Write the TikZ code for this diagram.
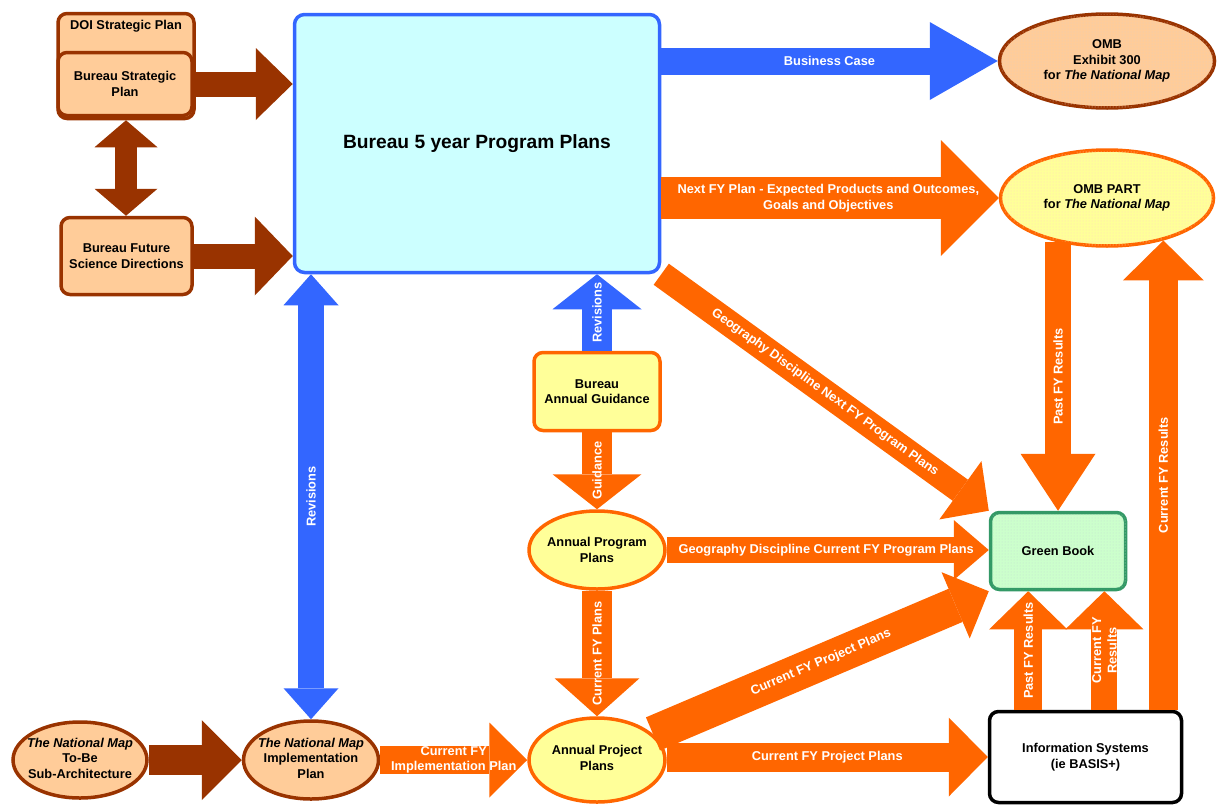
\documentclass[tikz,border=0pt]{standalone}
\usepackage{fontspec}
\setmainfont{Liberation Sans}
\usetikzlibrary{arrows.meta,shapes.geometric,calc,patterns}

\definecolor{brn}{HTML}{993300}
\definecolor{org}{HTML}{FF6600}
\definecolor{blu}{HTML}{3366FF}
\definecolor{peach}{HTML}{FFCC99}
\definecolor{ylw}{HTML}{FFFF99}
\definecolor{cyanf}{HTML}{CCFFFF}
\definecolor{grnf}{HTML}{CCFFCC}
\definecolor{grns}{HTML}{339966}

\tikzset{
  lbl/.style={font=\bfseries\fontsize{12.8}{15.5}\selectfont, align=center, inner sep=0pt},
  wlbl/.style={lbl, text=white},
  rbox/.style={lbl, draw, rounded corners=9pt, line width=3.5pt},
  ell/.style={draw, ellipse, line width=3.5pt, inner sep=0pt},
  dotted fill/.style={postaction={pattern=dots, pattern color=#1}},
  blk/.style n args={4}{draw=#1, line width=#2,
    -{Triangle[length=#4, width=#3, line width=0pt]}},
  dblk/.style n args={4}{draw=#1, line width=#2,
    {Triangle[length=#4, width=#3, line width=0pt]}-{Triangle[length=#4, width=#3, line width=0pt]}},
}

\begin{document}
\begin{tikzpicture}[x=1pt, y=-1pt]
\useasboundingbox (0,0) rectangle (1217,806);

% ---- planning boxes on the left
\node[rbox, fill=peach, draw=brn, minimum width=136pt, minimum height=105pt] (doi) at (126,66) {};
\node[lbl] (doit) at (126,26) {DOI Strategic Plan};
\node[rbox, fill=peach, draw=brn, minimum width=134pt, minimum height=63pt] (bsp) at (125,84) {Bureau Strategic\\Plan};
\node[rbox, fill=peach, draw=brn, minimum width=131pt, minimum height=77pt] (bfs) at (126.5,256) {Bureau Future\\Science Directions};

% ---- program plans
\node[rbox, fill=cyanf, draw=blu, rounded corners=10pt, minimum width=365pt, minimum height=258pt] (big) at (477,143.5)
  {\fontsize{19.2}{23}\selectfont Bureau 5 year Program Plans};

% ---- OMB
\node[ell, fill=peach, draw=brn, dotted fill=brn!25, minimum width=215pt, minimum height=94pt] (omb300) at (1107,61) {};
\node[lbl] (omb300t) at (1107,61) {OMB\\Exhibit 300\\for \textit{The National Map}};
\node[ell, fill=ylw, draw=org, dotted fill=org!25, minimum width=213pt, minimum height=96pt] (ombpart) at (1107,198) {};
\node[lbl] (ombpartt) at (1107,198) {OMB PART\\for \textit{The National Map}};

% ---- annual cycle
\node[rbox, fill=ylw, draw=org, minimum width=126pt, minimum height=78pt] (bag) at (597,391.5) {Bureau\\Annual Guidance};
\node[ell, fill=ylw, draw=org, minimum width=136pt, minimum height=78pt] (app) at (597,550) {};
\node[lbl] (appt) at (597,550) {Annual Program\\Plans};
\node[ell, fill=ylw, draw=org, minimum width=136pt, minimum height=84pt] (apj) at (597,760) {};
\node[lbl] (apjt) at (597,758) {Annual Project\\Plans};

% ---- results
\node[rbox, fill=grnf, draw=grns, dotted fill=grns!30, minimum width=135pt, minimum height=77pt] (green) at (1058,551) {Green Book};
\node[rbox, fill=white, draw=black, minimum width=192pt, minimum height=91pt] (info) at (1085.5,757) {Information Systems\\(ie BASIS+)};

% ---- architecture
\node[ell, fill=peach, draw=brn, minimum width=134pt, minimum height=76pt] (tnm1) at (80,760) {};
\node[lbl] (tnm1t) at (80,758) {\textit{The National Map}\\To-Be\\Sub-Architecture};
\node[ell, fill=peach, draw=brn, minimum width=135pt, minimum height=78pt] (tnm2) at (311,760) {};
\node[lbl] (tnm2t) at (311,758) {\textit{The National Map}\\Implementation\\Plan};

% ---- connectors
\draw[blk={brn}{25pt}{72pt}{37pt}] (bsp.east) -- (bsp.east -| big.west);
\draw[blk={brn}{25pt}{79pt}{38pt}] (bfs.east) -- (bfs.east -| big.west);
\draw[dblk={brn}{22pt}{63pt}{27pt}] (doi.south) -- (doi.south |- bfs.north);

\draw[blk={blu}{27pt}{78pt}{68pt}] (big.east |- omb300.west) -- (omb300.west)
  node[wlbl, pos=0.5] (bcase) {Business Case};
\draw[blk={org}{42pt}{116pt}{58pt}] (big.east |- ombpart.west) -- (ombpart.west)
  node[wlbl, pos=0.495] (nextfy) {Next FY Plan - Expected Products and Outcomes,\\Goals and Objectives};
\draw[blk={org}{26pt}{72pt}{35pt}] (big.south east) -- (green.north west)
  node[wlbl, sloped, pos=0.5] (gdnext) {Geography Discipline Next FY Program Plans};

\draw[blk={blu}{30pt}{89pt}{35pt}] (bag.north) -- (bag.north |- big.south)
  node[wlbl, rotate=90, pos=0.5] (rev1) {Revisions};
\draw[blk={org}{30pt}{89pt}{35pt}] (bag.south) -- (bag.south |- app.north)
  node[wlbl, rotate=90, pos=0.5] (guid) {Guidance};
\draw[blk={org}{26pt}{60pt}{35pt}] (app.east) -- (app.east -| green.west)
  node[wlbl, pos=0.495] (gdcur) {Geography Discipline Current FY Program Plans};
\draw[blk={org}{30pt}{85pt}{38pt}] (app.south) -- (app.south |- apj.north)
  node[wlbl, rotate=90, pos=0.5] (cfyp) {Current FY Plans};
\draw[blk={org}{36pt}{72pt}{36pt}] (apj.25) -- (green.south west)
  node[wlbl, sloped, pos=0.5] (cfpp1) {Current FY Project Plans};
\draw[blk={org}{29pt}{79pt}{39pt}] (apj.east |- info.west) -- (info.west)
  node[wlbl, pos=0.5] (cfpp2) {Current FY Project Plans};

\draw[blk={brn}{30pt}{80pt}{40pt}] (tnm1.east) -- (tnm2.west);
\draw[blk={org}{28pt}{75pt}{38pt}] (tnm2.east) -- (apj.west)
  node[wlbl, pos=0.5] (cfimp) {Current FY\\Implementation Plan};
\draw[dblk={blu}{26pt}{55pt}{31pt}] (big.south -| tnm2.north) -- (tnm2.north)
  node[wlbl, rotate=90, pos=0.5] (rev2) {Revisions};

\draw[blk={org}{26pt}{75pt}{57pt}] (green.north |- ombpart.222) -- (green.north)
  node[wlbl, rotate=90, pos=0.5] (pfy1) {Past FY Results};
\draw[blk={org}{29pt}{81pt}{40pt}] (ombpart.323 |- info.north) -- (ombpart.323)
  node[wlbl, rotate=90, pos=0.5] (cfy1) {Current FY Results};

\coordinate (pfin) at ($(green.south)!0.43!(green.south west)$);
\coordinate (cfin) at ($(green.south)!0.67!(green.south east)$);
\draw[blk={org}{28pt}{78pt}{38pt}] (info.north -| pfin) -- (pfin)
  node[wlbl, rotate=90, pos=0.5] (pfy2) {Past FY Results};
\draw[blk={org}{26pt}{78pt}{38pt}] (info.north -| cfin) -- (cfin)
  node[wlbl, rotate=90, pos=0.5] (cfy2) {Current FY\\Results};
\end{tikzpicture}
\end{document}
